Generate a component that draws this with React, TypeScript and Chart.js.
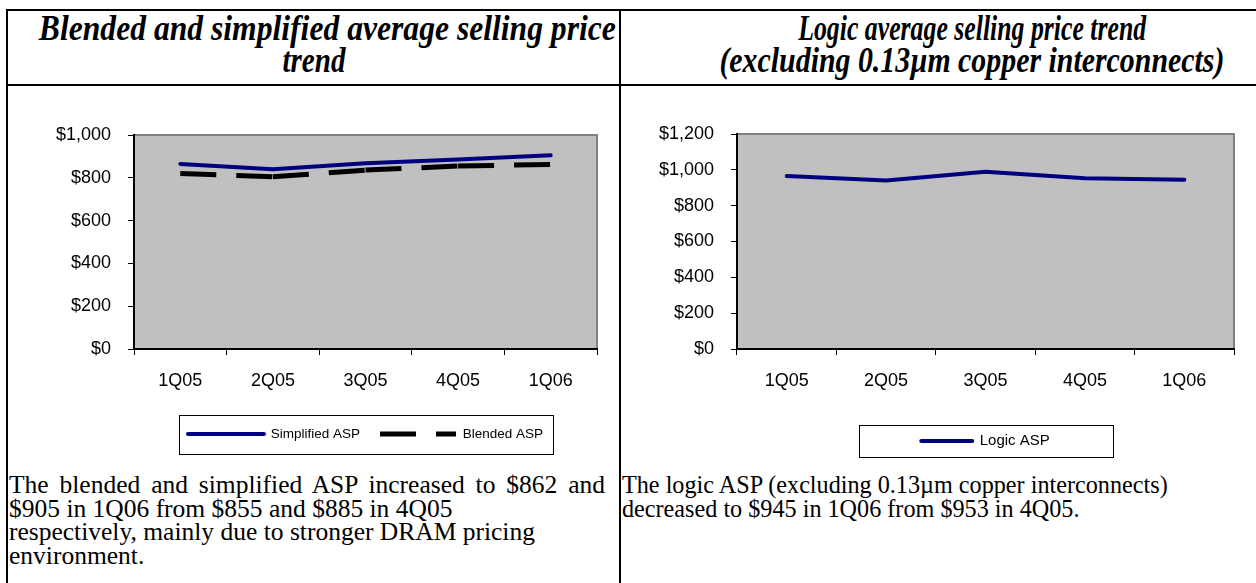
import React, { useEffect, useLayoutEffect, useRef } from "react";
import { Chart, registerables } from "chart.js";

Chart.register(...registerables);

// ---- data ----
const quarters = ["1Q05", "2Q05", "3Q05", "4Q05", "1Q06"];
const simplifiedASP = [865, 840, 868, 885, 905];
const blendedASP = [820, 805, 836, 855, 862];
const logicASP = [965, 941, 989, 953, 945];
const blendedYTicks = [0, 200, 400, 600, 800, 1000];
const logicYTicks = [0, 200, 400, 600, 800, 1000, 1200];

const NAVY = "#000080";
const SANS = '"Liberation Sans", Arial, Helvetica, sans-serif';
const SERIF = '"Liberation Serif", "Times New Roman", serif';

const fmtDollar = (v: number) => "$" + String(v).replace(/\B(?=(\d{3})+(?!\d))/g, ",");

const plotAreaPlugin = {
  id: "plotArea",
  beforeDraw(chart: any) {
    const { ctx, chartArea: a } = chart;
    ctx.save();
    ctx.fillStyle = "#C0C0C0";
    ctx.fillRect(a.left, a.top, a.right - a.left, a.bottom - a.top);
    ctx.strokeStyle = "#808080";
    ctx.lineWidth = 2;
    ctx.strokeRect(a.left, a.top, a.right - a.left, a.bottom - a.top);
    ctx.restore();
  },
};

const legendFramePlugin = {
  id: "legendFrame",
  afterDraw(chart: any, _args: any, opts: any) {
    const lg = chart.legend;
    if (!lg || !lg.legendHitBoxes || !lg.legendHitBoxes.length || !opts || !opts.width) return;
    const boxes = lg.legendHitBoxes;
    const l = Math.min(...boxes.map((b: any) => b.left));
    const r = Math.max(...boxes.map((b: any) => b.left + b.width));
    const cx = (l + r) / 2;
    const cy = boxes[0].top + boxes[0].height / 2;
    const ctx = chart.ctx;
    ctx.save();
    ctx.strokeStyle = "#000";
    ctx.lineWidth = 1;
    ctx.strokeRect(
      Math.round(cx - opts.width / 2) + 0.5,
      Math.round(cy - opts.height / 2) + 0.5,
      opts.width,
      opts.height
    );
    ctx.restore();
  },
};

type PanelParams = {
  datasets: any[];
  yTicks: number[];
  yWidth: number;
  xHeight: number;
  padding: { left: number; right: number; top: number; bottom: number };
  legendFont: number;
  legendPad: number;
  legendLine: number;
  frame: { width: number; height: number };
};

function buildConfig(p: PanelParams): any {
  const axisGrid = {
    display: true,
    drawOnChartArea: false,
    drawTicks: true,
    tickLength: 6,
    color: "#000",
    lineWidth: 1,
  };
  return {
    type: "line",
    data: { labels: quarters, datasets: p.datasets },
    plugins: [plotAreaPlugin, legendFramePlugin],
    options: {
      animation: false,
      responsive: true,
      maintainAspectRatio: false,
      events: [],
      layout: { padding: p.padding },
      elements: { point: { radius: 0 }, line: { tension: 0 } },
      scales: {
        x: {
          offset: true,
          grid: { ...axisGrid, offset: true },
          border: { display: true, color: "#000", width: 2 },
          ticks: {
            color: "#000",
            font: { family: SANS, size: 18 },
            padding: 15,
            maxRotation: 0,
            autoSkip: false,
          },
          afterFit: (s: any) => {
            s.height = p.xHeight;
          },
        },
        y: {
          min: p.yTicks[0],
          max: p.yTicks[p.yTicks.length - 1],
          grid: { ...axisGrid },
          border: { display: true, color: "#000", width: 2 },
          ticks: {
            color: "#000",
            font: { family: SANS, size: 18 },
            padding: 17,
            autoSkip: false,
            callback: (v: any) => fmtDollar(Number(v)),
          },
          afterBuildTicks: (s: any) => {
            s.ticks = p.yTicks.map((v) => ({ value: v }));
          },
          afterFit: (s: any) => {
            s.width = p.yWidth;
          },
        },
      },
      plugins: {
        legend: {
          display: true,
          position: "bottom",
          fullSize: false,
          labels: {
            usePointStyle: true,
            pointStyle: "line",
            pointStyleWidth: p.legendLine,
            padding: p.legendPad,
            color: "#000",
            font: { family: SANS, size: p.legendFont },
            generateLabels: (chart: any) =>
              chart.data.datasets.map((ds: any, i: number) => ({
                text: ds.label,
                fillStyle: ds.borderColor,
                strokeStyle: ds.borderColor,
                lineWidth: ds.borderWidth,
                lineDash: ds.borderDash || [],
                lineCap: ds.borderCapStyle || "butt",
                pointStyle: "line",
                hidden: false,
                fontColor: "#000",
                datasetIndex: i,
              })),
          },
        },
        legendFrame: p.frame,
        tooltip: { enabled: false },
        title: { display: false },
      },
    },
  };
}

function blendedConfig() {
  return buildConfig({
    datasets: [
      {
        label: "Simplified ASP",
        data: simplifiedASP,
        borderColor: NAVY,
        backgroundColor: NAVY,
        borderWidth: 4,
        borderCapStyle: "round",
        borderJoinStyle: "round",
        pointRadius: 0,
        fill: false,
      },
      {
        label: "Blended ASP",
        data: blendedASP,
        borderColor: "#000",
        backgroundColor: "#000",
        borderWidth: 5,
        borderDash: [36, 20],
        borderCapStyle: "butt",
        pointRadius: 0,
        fill: false,
        segment: {
          borderDashOffset: (c: any) => c.p0DataIndex * 0.001,
        },
      },
    ],
    yTicks: blendedYTicks,
    yWidth: 126,
    xHeight: 58.25,
    padding: { left: 0, right: 22, top: 48, bottom: 9.25 },
    legendFont: 13.5,
    legendPad: 20,
    legendLine: 76,
    frame: { width: 374, height: 39 },
  });
}

function logicConfig() {
  return buildConfig({
    datasets: [
      {
        label: "Logic ASP",
        data: logicASP,
        borderColor: NAVY,
        backgroundColor: NAVY,
        borderWidth: 4,
        borderCapStyle: "round",
        borderJoinStyle: "round",
        pointRadius: 0,
        fill: false,
      },
    ],
    yTicks: logicYTicks,
    yWidth: 116,
    xHeight: 74.5,
    padding: { left: 0, right: 22, top: 47, bottom: 1.5 },
    legendFont: 15,
    legendPad: 10,
    legendLine: 51,
    frame: { width: 254, height: 32 },
  });
}

function ChartPanel(props: { make: () => any; left: number; top: number; width: number; height: number }) {
  const ref = useRef<HTMLCanvasElement>(null);
  useEffect(() => {
    const chart = new Chart(ref.current as HTMLCanvasElement, props.make());
    return () => chart.destroy();
  }, []);
  return (
    <div style={{ position: "absolute", left: props.left, top: props.top, width: props.width, height: props.height }}>
      <canvas ref={ref} />
    </div>
  );
}

// a title line squeezed horizontally to a target width (text stays real text)
function FitLine(props: { text: string; width: number }) {
  const ref = useRef<HTMLSpanElement>(null);
  useLayoutEffect(() => {
    const el = ref.current;
    if (!el) return;
    el.style.transform = "none";
    const w = el.getBoundingClientRect().width;
    if (w > 0) el.style.transform = `scaleX(${props.width / w})`;
  }, [props.text, props.width]);
  return (
    <div>
      <span ref={ref} style={{ display: "inline-block", transformOrigin: "50% 50%", whiteSpace: "nowrap" }}>
        {props.text}
      </span>
    </div>
  );
}

const line = (left: number, top: number, width: number, height: number) => (
  <div style={{ position: "absolute", left, top, width, height, background: "#000" }} />
);

const titleStyle: React.CSSProperties = {
  position: "absolute",
  top: 13,
  textAlign: "center",
  fontFamily: SERIF,
  fontWeight: "bold",
  fontStyle: "italic",
  fontSize: 35,
  lineHeight: "32px",
  whiteSpace: "nowrap",
  color: "#000",
};

const bodyStyle: React.CSSProperties = {
  position: "absolute",
  top: 473,
  fontFamily: SERIF,
  lineHeight: "23.5px",
  whiteSpace: "nowrap",
  color: "#000",
};

export default function App() {
  return (
    <div
      style={{
        position: "absolute",
        left: 0,
        top: 0,
        width: 1256,
        height: 583,
        overflow: "hidden",
        background: "#fff",
      }}
    >
      {line(6, 9, 1250, 2)}
      {line(6, 84, 1250, 2)}
      {line(6, 9, 2, 574)}
      {line(619, 9, 2, 574)}

      <div style={{ ...titleStyle, left: 8, width: 611 }}>
        <FitLine text="Blended and simplified average selling price" width={577} />
        <FitLine text="trend" width={63} />
      </div>
      <div style={{ ...titleStyle, left: 621, width: 702 }}>
        <FitLine text="Logic average selling price trend" width={348} />
        <FitLine text="(excluding 0.13µm copper interconnects)" width={505} />
      </div>

      <ChartPanel make={blendedConfig} left={8} top={87} width={611} height={373} />
      <ChartPanel make={logicConfig} left={621} top={87} width={635} height={373} />

      <div style={{ ...bodyStyle, left: 9, fontSize: 25.5 }}>
        <div style={{ width: 596, textAlign: "justify", textAlignLast: "justify" }}>
          The blended and simplified ASP increased to $862 and
        </div>
        <div>$905 in 1Q06 from $855 and $885 in 4Q05</div>
        <div>respectively, mainly due to stronger DRAM pricing</div>
        <div>environment.</div>
      </div>
      <div style={{ ...bodyStyle, left: 622, fontSize: 24.2 }}>
        <div>The logic ASP (excluding 0.13µm copper interconnects)</div>
        <div>decreased to $945 in 1Q06 from $953 in 4Q05.</div>
      </div>
    </div>
  );
}
